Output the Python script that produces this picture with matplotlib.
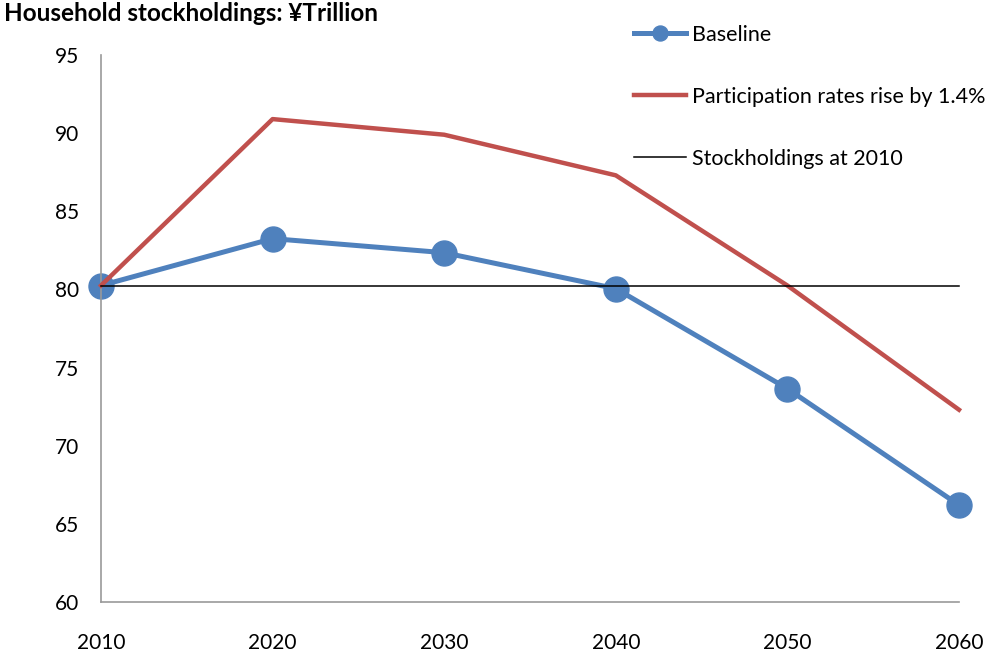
import numpy as np
import matplotlib.pyplot as plt

years = [2010, 2020, 2030, 2040, 2050, 2060]
baseline = [80.25, 83.25, 82.35, 80.05, 73.65, 66.2]
participation = [80.25, 90.9, 89.9, 87.3, 80.25, 72.3]
stock_2010 = 80.25

plt.rcParams['font.family'] = ['Lato', 'DejaVu Sans']

fig = plt.figure(figsize=(9.95, 6.55), dpi=100)
ax = fig.add_axes([0.1015, 0.081, 0.8623, 0.835])

ax.plot(years, baseline, color="#4F81BD", linewidth=3.6, marker="o", markersize=18,
	label="Baseline", zorder=2)
ax.plot(years, participation, color="#C0504D", linewidth=3.2,
	label="Participation rates rise by 1.4%", zorder=3)
ax.plot([years[0], years[-1]], [stock_2010, stock_2010], color="black", linewidth=1.1,
	label="Stockholdings at 2010", zorder=4)

ax.set_xlim(2010, 2060)
ax.set_ylim(60, 95)
ax.set_xticks(years)
ax.set_yticks(np.arange(60, 96, 5))
ax.tick_params(axis="both", length=0, labelsize=15)
ax.tick_params(axis="x", pad=22)
ax.tick_params(axis="y", pad=16)
for s in ("top", "right"):
	ax.spines[s].set_visible(False)
for s in ("left", "bottom"):
	ax.spines[s].set_color("#999999")
	ax.spines[s].set_linewidth(1.2)
for l in ax.lines:
	l.set_clip_on(False)

fig.legend(loc="upper left", bbox_to_anchor=(0.629, 0.975), frameon=False, fontsize=15.5,
	handlelength=2.4, handletextpad=0.25, labelspacing=1.95, borderaxespad=0, markerscale=0.6)

fig.text(0.004, 0.997, "Household stockholdings: ¥Trillion", fontsize=17.5, fontweight="bold",
	ha="left", va="top")

fig.savefig("out.png", dpi=100)
